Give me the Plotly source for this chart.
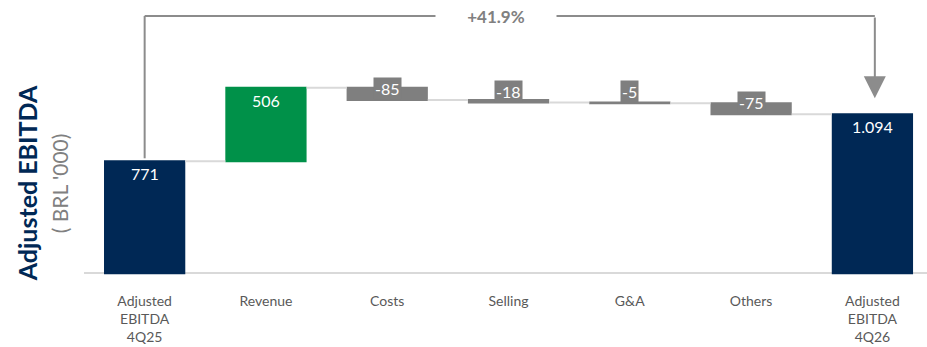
import plotly.graph_objects as go

categories = ["Adjusted<br>EBITDA<br>4Q25", "Revenue", "Costs", "Selling", "G&A", "Others", "Adjusted<br>EBITDA<br>4Q26"]
values = [771, 506, -85, -18, -5, -75, 1094]
measures = ["absolute", "relative", "relative", "relative", "relative", "relative", "total"]
change_label = "+41.9%"

NAVY = "#002855"
GREEN = "#009149"
GRAY = "#7f7f7f"
LIGHT = "#d9d9d9"
FONT = "Lato"

def fmt(v):
    return f"{v:,}".replace(",", ".")

fig = go.Figure(go.Waterfall(
    x=categories, y=values, measure=measures,
    textposition="none",
    increasing=dict(marker=dict(color=GREEN)),
    decreasing=dict(marker=dict(color=GRAY)),
    totals=dict(marker=dict(color=NAVY)),
    connector=dict(line=dict(color=LIGHT, width=2), mode="between"),
    hoverinfo="skip",
))

annotations = []
level = 0
for i, (c, v, m) in enumerate(zip(categories, values, measures)):
    if m == "absolute" or m == "total":
        start, end = 0, v
        level = v
    else:
        start, end = level, level + v
        level = end
    if v >= 0:
        annotations.append(dict(x=i, y=max(start, end), xref="x", yref="y", text=fmt(v),
                                showarrow=False, yanchor="top", yshift=-1,
                                font=dict(family=FONT, size=16, color="white")))
    else:
        annotations.append(dict(x=i, y=end, xref="x", yref="y", text=fmt(v),
                                showarrow=False, yanchor="bottom", bgcolor=GRAY, borderpad=1,
                                font=dict(family=FONT, size=16, color="white")))

bracket_y = 1770
shapes = [
    dict(type="line", xref="x", yref="y", x0=0, x1=0, y0=values[0] + 20, y1=bracket_y,
         line=dict(color="#8c8c8c", width=2)),
    dict(type="line", xref="x", yref="y", x0=0, x1=6.02, y0=bracket_y, y1=bracket_y,
         line=dict(color="#8c8c8c", width=2)),
]
annotations.append(dict(x=6.02, y=values[-1] + 110, xref="x", yref="y", ax=6.02, ay=bracket_y,
                        axref="x", ayref="y", text="", showarrow=True, arrowhead=2,
                        arrowsize=2.2, arrowwidth=2, arrowcolor="#8c8c8c", standoff=0, startstandoff=0))
annotations.append(dict(x=2.9, y=bracket_y, xref="x", yref="y", text="<b>" + change_label + "</b>",
                        showarrow=False, bgcolor="white", width=118, height=24,
                        font=dict(family=FONT, size=17, color="#808080")))
annotations.append(dict(x=0, y=0.35, xref="paper", yref="paper", xshift=-57, xanchor="center",
                        yanchor="middle", text="<b>Adjusted EBITDA</b>",
                        textangle=-90, showarrow=False,
                        font=dict(family=FONT, size=25, color=NAVY)))
annotations.append(dict(x=0, y=0.35, xref="paper", yref="paper", xshift=-25, xanchor="center",
                        yanchor="middle", text="( BRL '000)",
                        textangle=-90, showarrow=False,
                        font=dict(family=FONT, size=21, color="#808080")))

fig.update_layout(
    width=927, height=347,
    margin=dict(l=84, r=0, t=0, b=65),
    paper_bgcolor="white", plot_bgcolor="white",
    showlegend=False, waterfallgap=0.33,
    annotations=annotations, shapes=shapes,
    font=dict(family=FONT),
    xaxis=dict(range=[-0.5, 6.45], showgrid=False, zeroline=False, showline=False,
               ticks="", ticklabelstandoff=9, tickfont=dict(family=FONT, size=14, color="#595959")),
    yaxis=dict(range=[-60, 1880], showgrid=False, zeroline=True, zerolinecolor=LIGHT,
               zerolinewidth=2, showticklabels=False, ticks="", fixedrange=True),
)

fig.write_html("out.html")
